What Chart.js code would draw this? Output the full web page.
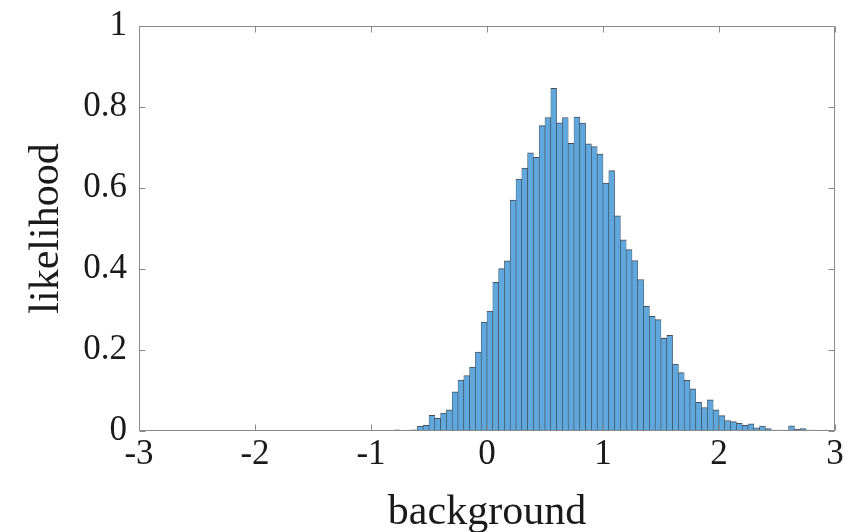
<!DOCTYPE html>
<html>
<head>
<meta charset="utf-8">
<script src="https://cdn.jsdelivr.net/npm/chart.js@4"></script>
<style>
  html, body { margin: 0; padding: 0; background: #fff; }
  #wrap { width: 864px; height: 532px; }
</style>
</head>
<body>
<div id="wrap"><canvas id="hist" width="864" height="532"></canvas></div>
<script>
// histogram of the background term, bins of 0.05 starting at -0.9
const BIN_START = -0.9;
const BIN_WIDTH = 0.05;
const likelihood = [
  0, 0, 0.003, 0.001, 0.002, 0.003,                       // -0.90 .. -0.65
  0.012, 0.014, 0.039, 0.031, 0.044, 0.052,               // -0.60 .. -0.35
  0.097, 0.126, 0.137, 0.158, 0.195, 0.269,               // -0.30 .. -0.05
  0.296, 0.367, 0.401, 0.420, 0.570, 0.622,               //  0.00 ..  0.25
  0.649, 0.687, 0.676, 0.754, 0.774, 0.846,               //  0.30 ..  0.55
  0.761, 0.774, 0.710, 0.775, 0.760, 0.709,               //  0.60 ..  0.85
  0.702, 0.684, 0.612, 0.643, 0.531, 0.472,               //  0.90 ..  1.15
  0.448, 0.421, 0.374, 0.308, 0.283, 0.275,               //  1.20 ..  1.45
  0.229, 0.236, 0.165, 0.144, 0.125, 0.104,               //  1.50 ..  1.75
  0.071, 0.058, 0.077, 0.052, 0.038, 0.026,               //  1.80 ..  2.05
  0.023, 0.019, 0.014, 0.018, 0.008, 0.012,               //  2.10 ..  2.35
  0.006, 0.002, 0.002, 0.002, 0.013, 0.004,               //  2.40 ..  2.65
  0.006, 0.002, 0.002, 0.001, 0.002, 0.001,               //  2.70 ..  2.95
];
const xTicks = [-3, -2, -1, 0, 1, 2, 3];
const yTicks = [0, 0.2, 0.4, 0.6, 0.8, 1];

const SERIF = "'Liberation Serif', 'Times New Roman', serif";
const AXIS_GRAY = '#8a8a8a';
const TICK_LEN = 6;

const points = likelihood.map((v, i) => ({ x: BIN_START + (i + 0.5) * BIN_WIDTH, y: v }));

// box around the axes with inward ticks on all four sides
const frame = {
  id: 'frame',
  afterDatasetsDraw(chart) {
    const { ctx, chartArea: a, scales: { x, y } } = chart;
    ctx.save();
    ctx.strokeStyle = AXIS_GRAY;
    ctx.lineWidth = 1;
    const L = Math.round(a.left) + 0.5, R = Math.round(a.right) - 0.5;
    const T = Math.round(a.top) + 0.5, B = Math.round(a.bottom) - 0.5;
    ctx.beginPath();
    ctx.rect(L, T, R - L, B - T);
    for (const v of xTicks) {
      const px = Math.round(x.getPixelForValue(v)) + 0.5;
      ctx.moveTo(px, B); ctx.lineTo(px, B - TICK_LEN);
      ctx.moveTo(px, T); ctx.lineTo(px, T + TICK_LEN);
    }
    for (const v of yTicks) {
      const py = Math.round(y.getPixelForValue(v)) + 0.5;
      ctx.moveTo(L, py); ctx.lineTo(L + TICK_LEN, py);
      ctx.moveTo(R, py); ctx.lineTo(R - TICK_LEN, py);
    }
    ctx.stroke();
    ctx.restore();
  },
};

new Chart(document.getElementById('hist'), {
  type: 'bar',
  data: {
    datasets: [{
      data: points,
      backgroundColor: '#5fa7dc',
      borderColor: 'rgba(38,48,58,0.85)',
      borderWidth: { top: 1, left: 0.6, right: 0.6, bottom: 0 },
      borderSkipped: false,
      barPercentage: 1,
      categoryPercentage: 1,
    }],
  },
  options: {
    responsive: false,
    animation: false,
    layout: { padding: { left: 0, right: 29, top: 25, bottom: 0 } },
    plugins: { legend: { display: false }, tooltip: { enabled: false } },
    scales: {
      x: {
        type: 'linear',
        min: -3,
        max: 3,
        offset: false,
        afterBuildTicks: (s) => { s.ticks = xTicks.map((v) => ({ value: v })); },
        afterFit: (s) => { s.height = 101; },
        grid: { display: false, drawTicks: false },
        border: { display: false },
        ticks: {
          padding: 3,
          maxRotation: 0,
          color: '#1a1a1a',
          font: { family: SERIF, size: 35 },
          callback: (v) => String(v),
        },
        title: {
          display: true,
          text: 'background',
          color: '#1a1a1a',
          font: { family: SERIF, size: 42, lineHeight: 1 },
          padding: { top: 0, bottom: -2 },
        },
      },
      y: {
        min: 0,
        max: 1,
        afterBuildTicks: (s) => { s.ticks = yTicks.map((v) => ({ value: v })); },
        afterFit: (s) => { s.width = 139; },
        grid: { display: false, drawTicks: false },
        border: { display: false },
        ticks: {
          padding: 12,
          color: '#1a1a1a',
          font: { family: SERIF, size: 35, lineHeight: 0.8 },
          callback: (v) => String(Math.round(v * 10) / 10),
        },
        title: {
          display: true,
          text: 'likelihood',
          color: '#1a1a1a',
          font: { family: SERIF, size: 42, lineHeight: 1 },
          padding: { top: 26, bottom: 0 },
        },
      },
    },
  },
  plugins: [frame],
});
</script>
</body>
</html>
